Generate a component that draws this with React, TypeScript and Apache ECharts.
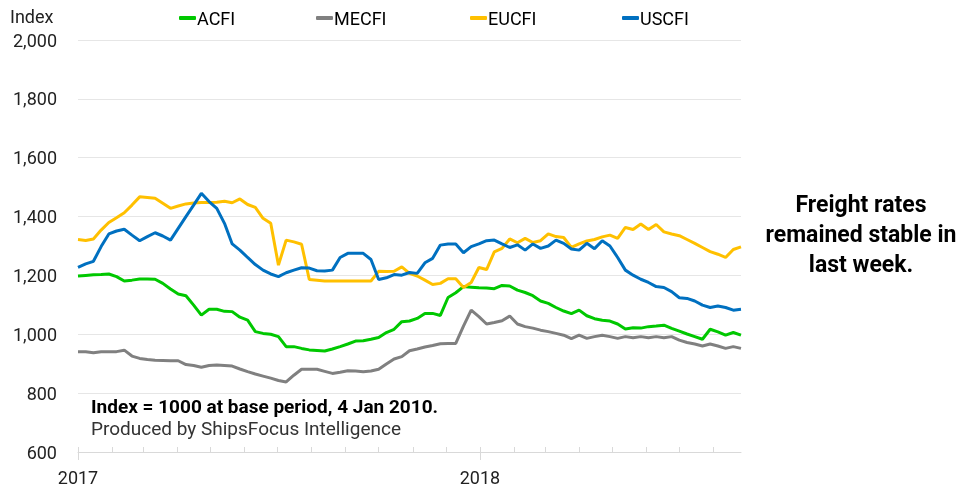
import { useEffect, useRef } from "react";
import * as echarts from "echarts";

const WEEKS = 87;
const pad = (n: number) => (n < 10 ? "0" + n : "" + n);
const weekDates: string[] = Array.from({ length: WEEKS }, (_, i) => {
  const d = new Date(2017, 0, 1 + 7 * i);
  return `${d.getFullYear()}-${pad(d.getMonth() + 1)}-${pad(d.getDate())}`;
});

const seriesNames = ["ACFI", "MECFI", "EUCFI", "USCFI"];

const acfi = [
  1198, 1200, 1202, 1203, 1205, 1196, 1181, 1184, 1188, 1188, 1187, 1173, 1154, 1137, 1131, 1099, 1065, 1085, 1085, 1078, 1077, 1058,
  1048, 1009, 1003, 1000, 992, 958, 958, 952, 947, 945, 943, 950, 958, 967, 977, 978, 983, 989, 1006, 1017, 1043, 1045,
  1054, 1071, 1071, 1064, 1125, 1141, 1162, 1160, 1158, 1157, 1155, 1166, 1164, 1150, 1142, 1131, 1113, 1105, 1091, 1079, 1070,
  1082, 1063, 1053, 1048, 1045, 1035, 1018, 1022, 1021, 1026, 1028, 1031, 1020, 1011, 1001, 992, 983, 1017, 1008, 997, 1006, 997,
];
const mecfi = [
  941, 941, 937, 941, 941, 941, 946, 926, 918, 914, 912, 911, 910, 910, 897, 894, 888, 894, 896, 894, 892, 882,
  873, 865, 858, 851, 843, 838, 861, 881, 881, 881, 874, 867, 871, 876, 875, 873, 875, 881, 899, 916, 924, 944,
  950, 957, 962, 968, 969, 969, 1028, 1082, 1060, 1035, 1040, 1046, 1062, 1035, 1026, 1021, 1014, 1009, 1003, 997, 985,
  997, 986, 992, 997, 992, 986, 992, 988, 992, 988, 992, 988, 992, 980, 972, 967, 960, 967, 960, 952, 958, 952,
];
const eucfi = [
  1322, 1319, 1324, 1354, 1380, 1396, 1413, 1439, 1467, 1465, 1462, 1445, 1428, 1436, 1443, 1446, 1448, 1448, 1449, 1452, 1447, 1460,
  1441, 1431, 1394, 1377, 1235, 1320, 1314, 1306, 1186, 1184, 1181, 1181, 1181, 1181, 1181, 1181, 1181, 1214, 1213, 1214, 1229, 1207,
  1198, 1184, 1169, 1173, 1189, 1189, 1159, 1176, 1227, 1220, 1280, 1292, 1324, 1311, 1326, 1312, 1318, 1341, 1332, 1329, 1295,
  1307, 1317, 1322, 1331, 1337, 1326, 1363, 1356, 1375, 1356, 1373, 1348, 1341, 1335, 1322, 1309, 1295, 1281, 1272, 1261, 1288, 1297,
];
const uscfi = [
  1227, 1239, 1248, 1298, 1341, 1351, 1357, 1337, 1318, 1332, 1345, 1334, 1320, 1360, 1400, 1439, 1479, 1451, 1428, 1377, 1307, 1286,
  1261, 1237, 1218, 1205, 1196, 1209, 1218, 1226, 1225, 1216, 1215, 1218, 1261, 1275, 1275, 1275, 1254, 1186, 1192, 1203, 1201, 1210,
  1207, 1243, 1258, 1303, 1307, 1307, 1277, 1298, 1307, 1318, 1320, 1307, 1295, 1304, 1286, 1307, 1292, 1300, 1320, 1309, 1290,
  1286, 1309, 1291, 1318, 1300, 1261, 1218, 1201, 1187, 1176, 1162, 1159, 1145, 1124, 1122, 1113, 1099, 1091, 1096, 1091, 1082, 1085,
];
const seriesValues = [acfi, mecfi, eucfi, uscfi];
const seriesColors = ["#00C800", "#808080", "#FFC000", "#0070C0"];

const monthTickDates = [
  "2017-01-01", "2017-02-01", "2017-03-01", "2017-04-01", "2017-05-01", "2017-06-01", "2017-07-01",
  "2017-08-01", "2017-09-01", "2017-10-01", "2017-11-01", "2017-12-01", "2018-01-01", "2018-02-01",
  "2018-03-01", "2018-04-01", "2018-05-01", "2018-06-01", "2018-07-01", "2018-08-01",
];
const yearTickDates = ["2017-01-01", "2018-01-01"];

const yTicks = { min: 600, max: 2000, interval: 200 };

const toTs = (s: string) => {
  const [y, m, d] = s.split("-").map(Number);
  return new Date(y, m - 1, d).getTime();
};

const FONT = "Roboto, 'Noto Sans', sans-serif";

export default function App() {
  const ref = useRef<HTMLDivElement>(null);
  useEffect(() => {
    if (!ref.current) return;
    const chart = echarts.init(ref.current, null, { renderer: "svg" });
    const xMin = toTs(weekDates[0]);
    const xMax = toTs(weekDates[weekDates.length - 1]);
    const legendLefts = [179, 316, 470, 622];
    chart.setOption({
      animation: false,
      textStyle: { fontFamily: FONT },
      grid: { left: 78, right: 223, top: 40, bottom: 39, outerBoundsMode: "none" },
      legend: seriesNames.map((n, i) => ({
        data: [n],
        left: legendLefts[i],
        top: 9,
        padding: 0,
        itemWidth: 17,
        itemHeight: 4,
        icon: "roundRect",
        textStyle: { fontSize: 18, color: "#000", fontFamily: FONT, padding: [0, 0, 0, -4] },
      })),
      xAxis: [
        {
          type: "value",
          position: "bottom",
          min: xMin,
          max: xMax,
          axisLine: { show: true, lineStyle: { color: "#d9d9d9", width: 1 } },
          axisTick: {
            show: true,
            inside: true,
            length: 5,
            lineStyle: { color: "#d9d9d9" },
            customValues: monthTickDates.map(toTs),
          },
          axisLabel: { show: false },
          splitLine: { show: false },
        },
        {
          type: "value",
          position: "bottom",
          offset: 0,
          min: xMin,
          max: xMax,
          axisLine: { show: false },
          axisTick: {
            show: true,
            inside: false,
            length: 8,
            lineStyle: { color: "#d9d9d9" },
            customValues: yearTickDates.map(toTs),
          },
          axisLabel: {
            show: true,
            customValues: yearTickDates.map(toTs),
            formatter: (v: number) => String(new Date(v).getFullYear()),
            fontSize: 18,
            color: "#222",
            margin: 16,
            fontFamily: FONT,
          },
          splitLine: { show: false },
        },
      ],
      yAxis: {
        type: "value",
        min: yTicks.min,
        max: yTicks.max,
        interval: yTicks.interval,
        axisLine: { show: false },
        axisTick: { show: false },
        axisLabel: {
          fontSize: 18,
          color: "#222",
          margin: 21,
          fontFamily: FONT,
          formatter: (v: number) => v.toLocaleString("en-US"),
        },
        splitLine: { lineStyle: { color: "#e6e6e6", width: 1 } },
      },
      series: seriesNames.map((n, i) => ({
        name: n,
        type: "line",
        xAxisIndex: 0,
        showSymbol: false,
        symbol: "none",
        color: seriesColors[i],
        lineStyle: { width: 3, color: seriesColors[i] },
        data: weekDates.map((d, j) => [toTs(d), seriesValues[i][j]]),
      })),
      graphic: [
        {
          type: "text",
          left: 10,
          top: 7,
          style: { text: "Index", fontSize: 18, fill: "#222", fontFamily: FONT },
        },
        {
          type: "text",
          left: 91,
          top: 397,
          style: {
            text: "Index = 1000 at base period, 4 Jan 2010.",
            fontSize: 19,
            fontWeight: "bold",
            fill: "#000",
            fontFamily: FONT,
          },
        },
        {
          type: "text",
          left: 91,
          top: 419,
          style: {
            text: "Produced by ShipsFocus Intelligence",
            fontSize: 19,
            fill: "#333",
            fontFamily: FONT,
          },
        },
        {
          type: "text",
          x: 861,
          y: 189,
          style: {
            text: "Freight rates\nremained stable in\nlast week.",
            fontSize: 23,
            fontWeight: "bold",
            lineHeight: 30,
            align: "center",
            fill: "#000",
            fontFamily: FONT,
          },
        },
      ],
    });
    return () => chart.dispose();
  }, []);
  return (
    <div
      ref={ref}
      style={{ position: "fixed", left: 0, top: 0, width: 964, height: 491 }}
    />
  );
}
